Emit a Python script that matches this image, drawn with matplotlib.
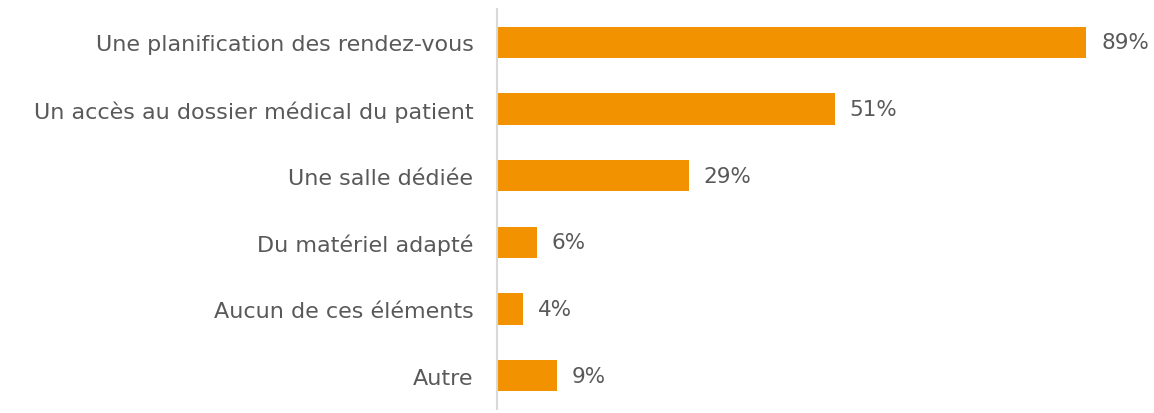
import matplotlib
matplotlib.use("Agg")
import matplotlib.pyplot as plt

categories = ["Une planification des rendez-vous",
              "Un accès au dossier médical du patient",
              "Une salle dédiée",
              "Du matériel adapté",
              "Aucun de ces éléments",
              "Autre"]
values = [89, 51, 29, 6, 4, 9]
value_labels = ["89%", "51%", "29%", "6%", "4%", "9%"]

plt.rcParams['font.family'] = ['DejaVu Sans']
text_color = "#595959"

fig = plt.figure(figsize=(11.54, 4.14), dpi=100)
ax = fig.add_axes([497/1154, 4/414, 1 - 497/1154, 400/414])

y = list(range(len(categories)))
ax.barh(y, values, height=0.47, color="#F39200")
for yi, v, lab in zip(y, values, value_labels):
    ax.text(v + 2.2, yi, lab, va="center", ha="left", fontsize=15.5, color=text_color)

ax.set_yticks(y)
ax.set_yticklabels(categories, fontsize=16, color=text_color)
ax.tick_params(axis="y", length=0, pad=17)
ax.set_ylim(len(categories) - 0.5, -0.5)
ax.set_xlim(0, 99.2)
ax.set_xticks([])
for s in ["top", "right", "bottom"]:
    ax.spines[s].set_visible(False)
ax.spines["left"].set_color("#d9d9d9")
ax.spines["left"].set_linewidth(1.5)

fig.savefig("out.png", dpi=100)
